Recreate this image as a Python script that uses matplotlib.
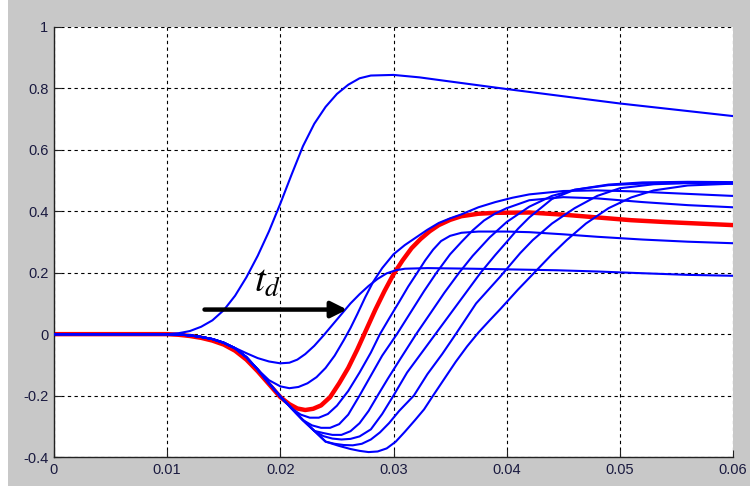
import numpy as np
import matplotlib.pyplot as plt
from matplotlib.patches import Rectangle

# step responses (time in s, amplitude)
t_top = [0, 0.010, 0.011, 0.012, 0.013, 0.014, 0.015, 0.016, 0.017, 0.018, 0.019,
         0.020, 0.021, 0.022, 0.023, 0.024, 0.025, 0.026, 0.027, 0.028, 0.030,
         0.0323, 0.0341, 0.040, 0.050, 0.060]
y_top = [0, 0, 0.003, 0.01, 0.024, 0.045, 0.078, 0.125, 0.185, 0.255, 0.335,
         0.425, 0.52, 0.612, 0.685, 0.74, 0.782, 0.812, 0.833, 0.842, 0.844,
         0.836, 0.827, 0.798, 0.751, 0.710]

# shared start of the undershoot
t_head = [0, 0.010, 0.011, 0.012, 0.013, 0.014, 0.015, 0.016, 0.017, 0.018, 0.019,
          0.020, 0.021, 0.022, 0.023, 0.024]
y_head = [0, 0, -0.001, -0.004, -0.009, -0.016, -0.028, -0.046, -0.075, -0.115, -0.16,
          -0.203, -0.242, -0.28, -0.315, -0.35]

t_b = [0.016, 0.017, 0.018, 0.019, 0.020, 0.0208, 0.0215, 0.0222, 0.0230, 0.0238,
       0.0246, 0.0254, 0.0262, 0.0270, 0.0278, 0.0286, 0.0294, 0.0302, 0.031, 0.033,
       0.037, 0.040, 0.0444, 0.048, 0.0515, 0.056, 0.060]
y_b = [-0.045, -0.062, -0.078, -0.089, -0.095, -0.093, -0.083, -0.065, -0.038, -0.005,
       0.03, 0.065, 0.10, 0.13, 0.157, 0.18, 0.198, 0.208, 0.213, 0.215,
       0.213, 0.211, 0.208, 0.204, 0.199, 0.193, 0.19]

t_c = [0.019, 0.020, 0.0208, 0.0216, 0.0224, 0.0232, 0.024, 0.0248, 0.0256, 0.0262,
       0.0268, 0.0275, 0.0282, 0.029, 0.030, 0.031, 0.032, 0.033, 0.034, 0.035,
       0.036, 0.0375, 0.039, 0.0405, 0.042, 0.045, 0.048, 0.051, 0.054, 0.057, 0.060]
y_c = [-0.15, -0.17, -0.176, -0.172, -0.16, -0.14, -0.11, -0.07, -0.02, 0.02,
       0.065, 0.12, 0.17, 0.215, 0.26, 0.29, 0.315, 0.34, 0.362, 0.377,
       0.39, 0.413, 0.43, 0.444, 0.455, 0.466, 0.468, 0.465, 0.46, 0.455, 0.45]

t_red = [0, 0.010, 0.011, 0.012, 0.013, 0.014, 0.015, 0.016, 0.017, 0.018, 0.019,
         0.020, 0.0208, 0.0215, 0.0222, 0.0229, 0.0236, 0.0244, 0.0252, 0.026, 0.0268,
         0.0276, 0.0284, 0.0292, 0.030, 0.0308, 0.0316, 0.0324, 0.0332, 0.034, 0.035,
         0.036, 0.0375, 0.039, 0.042, 0.045, 0.048, 0.051, 0.054, 0.057, 0.060]
y_red = [0, 0, -0.002, -0.006, -0.012, -0.021, -0.034, -0.054, -0.083, -0.121, -0.163,
         -0.205, -0.228, -0.242, -0.247, -0.243, -0.232, -0.205, -0.16, -0.11, -0.05,
         0.015, 0.08, 0.14, 0.195, 0.24, 0.28, 0.31, 0.335, 0.355, 0.372,
         0.384, 0.392, 0.395, 0.396, 0.389, 0.38, 0.371, 0.365, 0.36, 0.355]

t_d = [0.0218, 0.0226, 0.0234, 0.0242, 0.025, 0.026, 0.027, 0.028, 0.0288, 0.0296,
       0.0305, 0.0313, 0.0321, 0.0328, 0.0335, 0.0342, 0.035, 0.036, 0.0375, 0.040,
       0.042, 0.045, 0.048, 0.052, 0.056, 0.060]
y_d = [-0.262, -0.272, -0.272, -0.26, -0.233, -0.185, -0.125, -0.06, 0.0, 0.05,
       0.105, 0.155, 0.2, 0.24, 0.275, 0.303, 0.32, 0.33, 0.334, 0.334,
       0.332, 0.325, 0.317, 0.308, 0.301, 0.296]

t_e = [0.0228, 0.0236, 0.0244, 0.0252, 0.026, 0.027, 0.028, 0.029, 0.0303, 0.0315,
       0.0327, 0.0338, 0.035, 0.036, 0.037, 0.038, 0.039, 0.040, 0.042, 0.045,
       0.048, 0.052, 0.056, 0.060]
y_e = [-0.297, -0.305, -0.305, -0.293, -0.262, -0.2, -0.135, -0.07, 0.0, 0.07,
       0.14, 0.2, 0.26, 0.3, 0.338, 0.37, 0.393, 0.41, 0.436, 0.446,
       0.442, 0.43, 0.42, 0.413]

t_f = [0.0238, 0.0246, 0.0254, 0.0262, 0.027, 0.0278, 0.0286, 0.0295, 0.0307, 0.032,
       0.0333, 0.0345, 0.0358, 0.037, 0.0385, 0.040, 0.042, 0.044, 0.046, 0.049,
       0.052, 0.056, 0.060]
y_f = [-0.322, -0.328, -0.328, -0.316, -0.29, -0.25, -0.2, -0.145, -0.075, 0.0,
       0.07, 0.135, 0.2, 0.255, 0.315, 0.365, 0.415, 0.45, 0.47, 0.485,
       0.49, 0.492, 0.49]

t_g = [0.0238, 0.0246, 0.0254, 0.0262, 0.027, 0.028, 0.029, 0.030, 0.0312, 0.0325,
       0.0337, 0.035, 0.0364, 0.0377, 0.039, 0.040, 0.041, 0.042, 0.044, 0.046,
       0.049, 0.052, 0.056, 0.060]
y_g = [-0.332, -0.34, -0.343, -0.341, -0.333, -0.31, -0.26, -0.2, -0.125, -0.06,
       0.0, 0.065, 0.135, 0.2, 0.258, 0.3, 0.343, 0.38, 0.44, 0.47,
       0.487, 0.494, 0.496, 0.495]

t_h = [0.0248, 0.0256, 0.0264, 0.0272, 0.028, 0.0288, 0.0296, 0.0305, 0.0318, 0.033,
       0.0343, 0.0355, 0.0373, 0.0394, 0.0412, 0.0423, 0.044, 0.046, 0.048, 0.050,
       0.053, 0.056, 0.060]
y_h = [-0.357, -0.361, -0.362, -0.357, -0.343, -0.32, -0.29, -0.25, -0.2, -0.13,
       -0.065, 0.0, 0.1, 0.186, 0.264, 0.306, 0.36, 0.41, 0.45, 0.475,
       0.488, 0.492, 0.492]

t_i = [0.0252, 0.0262, 0.0270, 0.0278, 0.0286, 0.0294, 0.0302, 0.031, 0.0319, 0.0327,
       0.0335, 0.0345, 0.0355, 0.0365, 0.0375, 0.0385, 0.0394, 0.041, 0.0427, 0.044,
       0.0453, 0.047, 0.049, 0.051, 0.053, 0.056, 0.060]
y_i = [-0.364, -0.374, -0.38, -0.384, -0.382, -0.372, -0.35, -0.318, -0.28, -0.245,
       -0.2, -0.145, -0.09, -0.04, 0.005, 0.045, 0.08, 0.145, 0.21, 0.26,
       0.306, 0.36, 0.41, 0.445, 0.468, 0.484, 0.49]

# (number of shared head points, tail t, tail y)
blue_tails = [(7, t_b, y_b), (10, t_c, y_c), (13, t_d, y_d), (14, t_e, y_e),
              (15, t_f, y_f), (15, t_g, y_g), (16, t_h, y_h), (16, t_i, y_i)]

xticks = [0, 0.01, 0.02, 0.03, 0.04, 0.05, 0.06]
xticklabels = ['0', '0.01', '0.02', '0.03', '0.04', '0.05', '0.06']
yticks = [-0.4, -0.2, 0, 0.2, 0.4, 0.6, 0.8, 1]
yticklabels = ['-0.4', '-0.2', '0', '0.2', '0.4', '0.6', '0.8', '1']

plt.rcParams['font.family'] = ['Liberation Sans', 'DejaVu Sans']
plt.rcParams['mathtext.fontset'] = 'stix'

fig = plt.figure(figsize=(7.5, 4.86), dpi=100, facecolor='#c8c8c8')
fig.patches.append(Rectangle((0, 0), 8 / 750, 1, transform=fig.transFigure,
                             facecolor='white', edgecolor='none'))
ax = fig.add_axes([54 / 750, 29 / 486, 679 / 750, 430 / 486])
ax.set_facecolor('white')

ax.plot(t_red, y_red, color='#ff0000', lw=3.2, solid_joinstyle='round', zorder=2)
for n, tt, yy in blue_tails:
    ax.plot(t_head[:n] + tt, y_head[:n] + yy, color='#0000ff', lw=1.5, zorder=3)
ax.plot(t_top, y_top, color='#0000ff', lw=1.5, zorder=3)

ax.annotate('', xy=(0.0259, 0.08), xytext=(0.0133, 0.08),
            arrowprops=dict(arrowstyle='-|>', color='black', lw=3.2,
                            mutation_scale=24, shrinkA=0, shrinkB=0), zorder=5)
ax.text(0.0189, 0.17, r'$t_d$', fontsize=28, ha='center', va='center', zorder=5)

ax.set_xlim(0, 0.06)
ax.set_ylim(-0.4, 1)
ax.set_xticks(xticks)
ax.set_xticklabels(xticklabels)
ax.set_yticks(yticks)
ax.set_yticklabels(yticklabels)
ax.grid(True, color='black', linestyle=(0, (3, 3)), linewidth=0.8)
for s in ['top', 'right']:
    ax.spines[s].set_visible(False)
for s in ['left', 'bottom']:
    ax.spines[s].set_color('#222222')
    ax.spines[s].set_linewidth(1.0)
ax.tick_params(direction='in', length=5, labelsize=10.5, labelcolor='#1a1a40',
               color='#222222', pad=4)

fig.savefig('out.png', dpi=100, facecolor=fig.get_facecolor())
